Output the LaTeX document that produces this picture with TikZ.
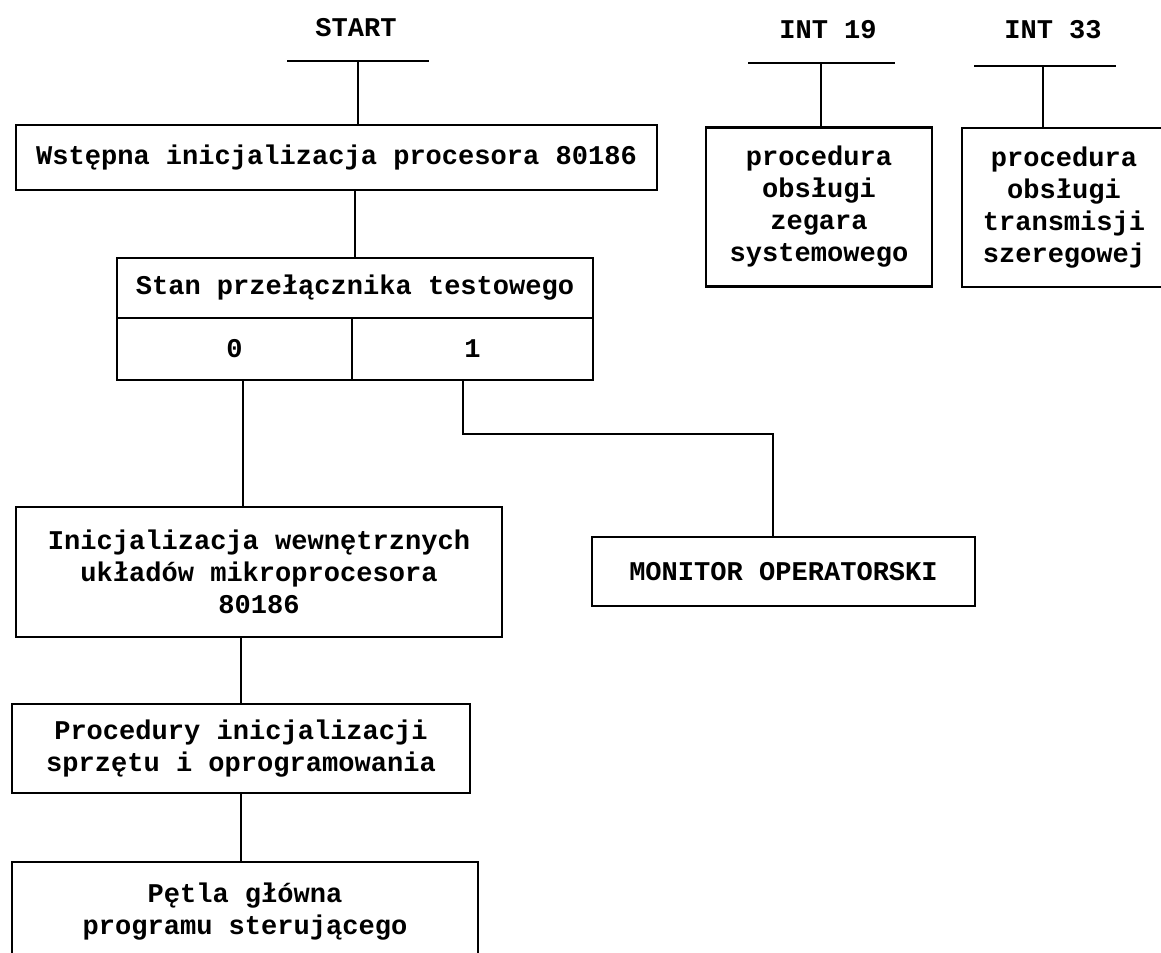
\documentclass[tikz,border=0pt]{standalone}
\usepackage{fontspec}
\setmonofont{Liberation Mono}
\usetikzlibrary{positioning,calc}
\tikzset{%
  blok/.style={draw,line width=1.2pt,align=center,inner sep=0pt,outer sep=0pt,font=\ttfamily\bfseries\fontsize{15.4}{18.2}\selectfont},
  napis/.style={inner sep=0pt,font=\ttfamily\bfseries\fontsize{15.4}{18.2}\selectfont},
  linia/.style={line width=0.9pt},
}
\begin{document}
\begin{tikzpicture}[x=0.02cm,y=-0.02cm]
  \useasboundingbox (0,0) rectangle (1161,953);
  \clip (0,0) rectangle (1161,953);
  % wejscia
  \node[napis] (start) at (356,28) {START};
  \node[napis] (int19) at (828,30) {INT 19};
  \node[napis] (int33) at (1053,30) {INT 33};
  \coordinate (startbar) at (358,61);
  \coordinate (bar19) at (821,63);
  \coordinate (bar33) at (1043,66);
  % bloki
  \node[blok,minimum width=12.82cm,minimum height=1.3cm] (wstepna) at (336.5,157.5)
    {Wstępna inicjalizacja procesora 80186};
  \node[blok,minimum width=9.52cm,minimum height=1.2cm] (stan) at (355,288)
    {Stan przełącznika testowego};
  \node[blok,anchor=north west,minimum width=4.7cm,minimum height=1.24cm] (zero) at (stan.south west) {0};
  \node[blok,anchor=north west,minimum width=4.82cm,minimum height=1.24cm] (one) at (zero.north east) {1};
  \node[blok,minimum width=9.72cm,minimum height=2.6cm] (init) at (259,572)
    {Inicjalizacja wewnętrznych\\układów mikroprocesora\\80186};
  \node[blok,minimum width=7.66cm,minimum height=1.38cm] (monitor) at (783.5,571.5)
    {MONITOR OPERATORSKI};
  \node[blok,minimum width=9.16cm,minimum height=1.78cm] (proc) at (241,748.5)
    {Procedury inicjalizacji\\sprzętu i oprogramowania};
  \node[blok,minimum width=9.32cm,minimum height=2cm] (petla) at (245,912)
    {Pętla główna\\programu sterującego};
  \node[blok,minimum width=4.52cm,minimum height=3.18cm] (proc19) at (819,207)
    {procedura\\obsługi\\zegara\\systemowego};
  \node[blok,minimum width=4.08cm,minimum height=3.18cm] (proc33) at (1064,207.5)
    {procedura\\obsługi\\transmisji\\szeregowej};
  % polaczenia
  \draw[linia] (startbar) ++(-71,0) -- ++(142,0);
  \draw[linia] (bar19) ++(-73,0) -- ++(147,0);
  \draw[linia] (bar33) ++(-69,0) -- ++(142,0);
  \draw[linia] (startbar) -- (startbar |- wstepna.north);
  \draw[linia] (bar19) -- (bar19 |- proc19.north);
  \draw[linia] (bar33) -- (bar33 |- proc33.north);
  \draw[linia] (wstepna.south -| stan.north) -- (stan.north);
  \draw[linia] ([xshift=0.17cm]zero.south) -- ([xshift=0.17cm]zero.south |- init.north);
  \draw[linia] ([xshift=-0.19cm]one.south) -- ++(0,54) -| ([xshift=-0.21cm]monitor.north);
  \draw[linia] (init.south -| proc.north) -- (proc.north);
  \draw[linia] (proc.south) -- (proc.south |- petla.north);
\end{tikzpicture}
\end{document}
